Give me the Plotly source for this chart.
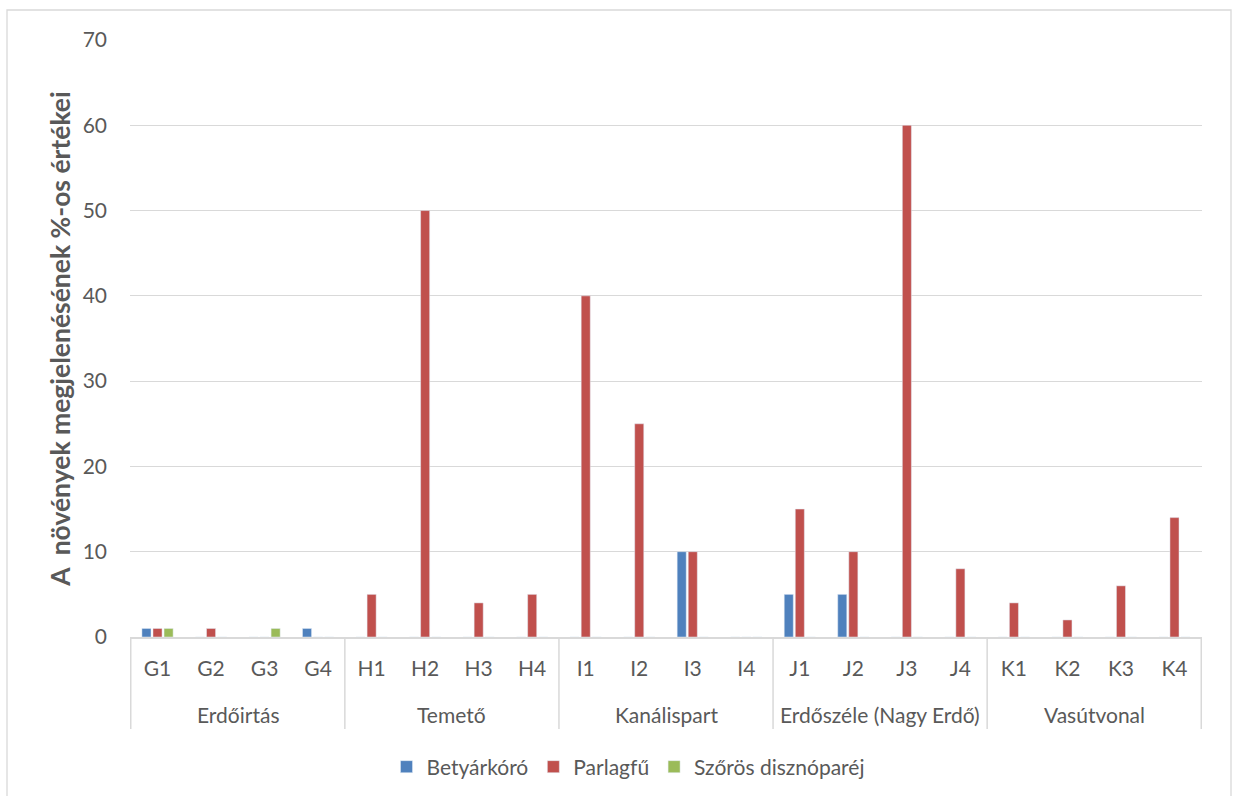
import plotly.graph_objects as go

# Sampling sites (sub-categories) and their site groups
sites = ["G1", "G2", "G3", "G4",
         "H1", "H2", "H3", "H4",
         "I1", "I2", "I3", "I4",
         "J1", "J2", "J3", "J4",
         "K1", "K2", "K3", "K4"]
groups = ["Erdőirtás", "Temető", "Kanálispart", "Erdőszéle (Nagy Erdő)", "Vasútvonal"]
sites_per_group = 4

# Percentage values per species
betyarkoro = [1, 0, 0, 1, 0, 0, 0, 0, 0, 0, 10, 0, 5, 5, 0, 0, 0, 0, 0, 0]
parlagfu = [1, 1, 0, 0, 5, 50, 4, 5, 40, 25, 10, 0, 15, 10, 60, 8, 4, 2, 6, 14]
szoros = [1, 0, 1, 0, 0, 0, 0, 0, 0, 0, 0, 0, 0, 0, 0, 0, 0, 0, 0, 0]

y_ticks = [0, 10, 20, 30, 40, 50, 60, 70]

TEXT = "#595959"
GRID = "#d9d9d9"
FONT = "Lato"

fig = go.Figure()
fig.add_trace(go.Bar(x=sites, y=betyarkoro, name="Betyárkóró", marker_color="#4F81BD"))
fig.add_trace(go.Bar(x=sites, y=parlagfu, name="Parlagfű", marker_color="#C0504D"))
fig.add_trace(go.Bar(x=sites, y=szoros, name="Szőrös disznóparéj", marker_color="#9BBB59"))

# plot area geometry in pixels (used for paper-coordinate decorations)
W, H = 1234, 796
L, R, T, B = 130, 32, 40, 159
pw, ph = W - L - R, H - T - B


def px_x(p):
    return (p - L) / pw


def px_y(p):
    return (H - B - p) / ph


shapes = []
# group dividers under the category axis
for k in range(len(groups) + 1):
    xv = k * sites_per_group - 0.5
    shapes.append(dict(type="line", xref="x", yref="paper", x0=xv, x1=xv,
                       y0=0, y1=px_y(729), line=dict(color=GRID, width=1.5)))
# chart frame
shapes.append(dict(type="rect", xref="paper", yref="paper",
                   x0=px_x(7), x1=px_x(1231), y0=px_y(10), y1=px_y(800),
                   line=dict(color=GRID, width=1.3), layer="below"))

annotations = []
for i, g in enumerate(groups):
    annotations.append(dict(x=i * sites_per_group + (sites_per_group - 1) / 2, xref="x",
                            y=px_y(715), yref="paper", text=g, showarrow=False,
                            xanchor="center", yanchor="middle",
                            font=dict(family=FONT, size=21, color=TEXT)))

fig.update_layout(
    width=W, height=H,
    margin=dict(l=L, r=R, t=T, b=B, autoexpand=False),
    paper_bgcolor="white", plot_bgcolor="white",
    barmode="group", bargap=0.38, bargroupgap=0.18,
    font=dict(family=FONT, color=TEXT, size=20),
    shapes=shapes, annotations=annotations,
    legend=dict(orientation="h", x=px_x(628), xanchor="center",
                y=px_y(767), yanchor="middle",
                font=dict(family=FONT, size=21, color=TEXT),
                itemwidth=30, traceorder="normal"),
    showlegend=True,
)
fig.update_xaxes(type="category", showline=True, linecolor=GRID, linewidth=1.5,
                 showgrid=False, ticks="", ticklabelstandoff=12,
                 tickfont=dict(family=FONT, size=21, color=TEXT), fixedrange=True)
fig.update_yaxes(range=[0, 70], tickvals=y_ticks, showgrid=True, gridcolor=GRID,
                 gridwidth=1.3, zeroline=False, showline=False, ticks="",
                 ticklabelstandoff=22, tickfont=dict(family=FONT, size=21, color=TEXT),
                 title=dict(text="A\u00a0 növények megjelenésének %-os értékei",
                            font=dict(family=FONT, size=26.5, color=TEXT, weight="bold"),
                            standoff=4),
                 fixedrange=True)

fig.write_html("out.html")
